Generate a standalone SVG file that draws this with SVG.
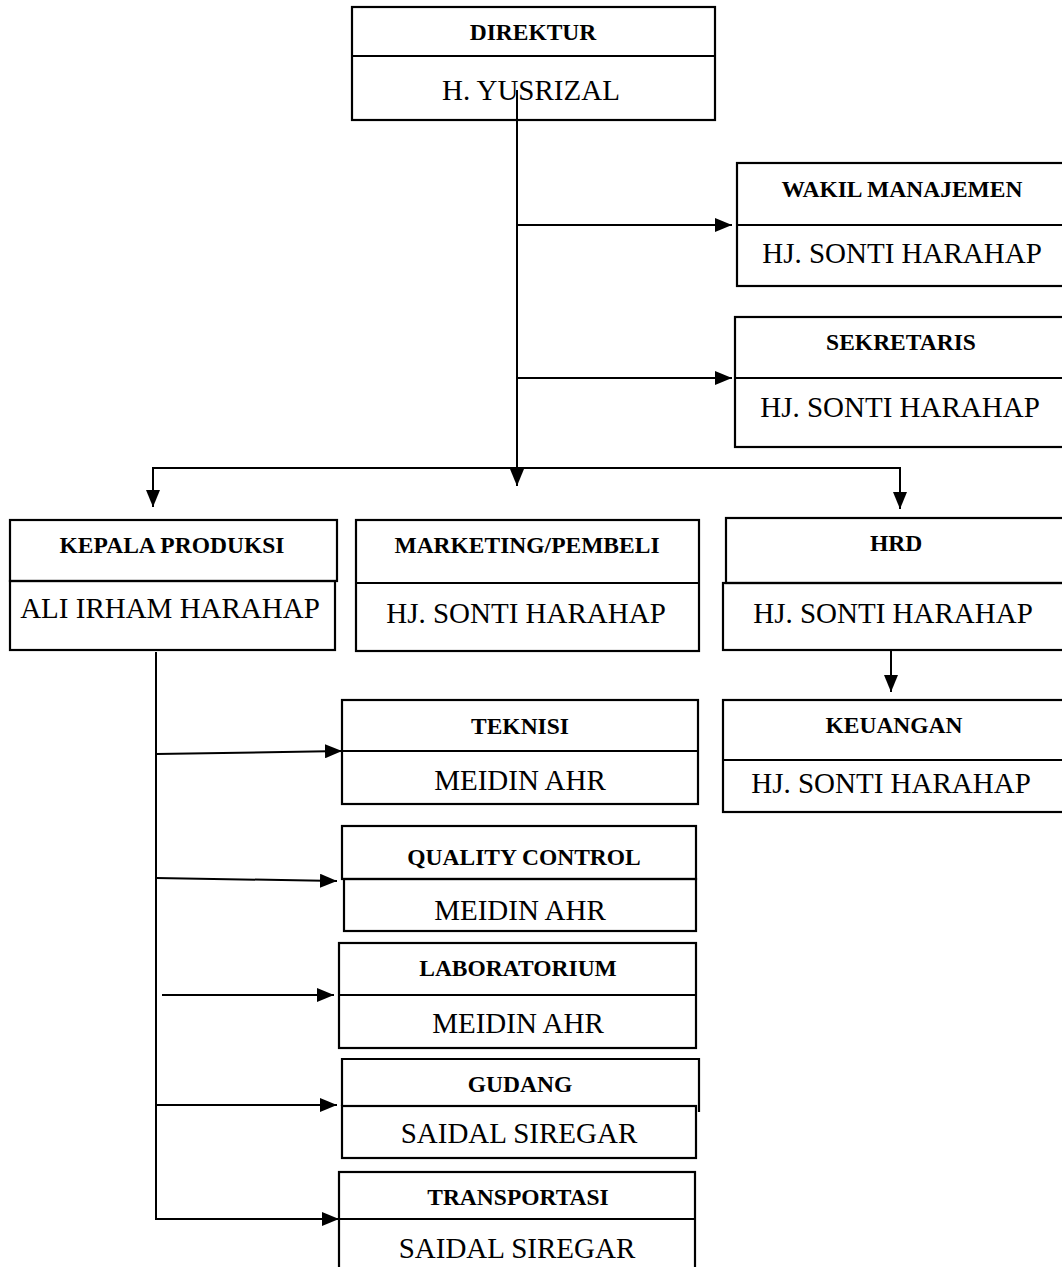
<svg xmlns="http://www.w3.org/2000/svg" width="1062" height="1267" viewBox="0 0 1062 1267">
<defs>
<style>
.box{fill:none;stroke:#000;stroke-width:2.2}
.ln{fill:none;stroke:#000;stroke-width:2}
.lbl{font-family:"Liberation Serif","Times New Roman",serif;font-weight:bold;font-size:23.5px;text-anchor:middle;fill:#000}
.nm{font-family:"Liberation Serif","Times New Roman",serif;font-size:29px;text-anchor:middle;fill:#000}
</style>
<marker id="ah" viewBox="0 0 17 14" refX="17" refY="7" markerWidth="17" markerHeight="14" markerUnits="userSpaceOnUse" orient="auto">
<path d="M0,0 L17,7 L0,14 z" fill="#000"/>
</marker>
</defs>
<rect width="1062" height="1267" fill="#fff"/>

<g id="direktur">
<rect class="box" x="352" y="7" width="363" height="113"/>
<line class="box" x1="352" y1="56" x2="715" y2="56"/>
<text class="lbl" x="533" y="40">DIREKTUR</text>
<text class="nm" x="531" y="100">H. YUSRIZAL</text>
</g>

<g id="wakil-manajemen">
<rect class="box" x="737" y="163" width="340" height="123"/>
<line class="box" x1="737" y1="225" x2="1077" y2="225"/>
<text class="lbl" x="902" y="197">WAKIL MANAJEMEN</text>
<text class="nm" x="902" y="263">HJ. SONTI HARAHAP</text>
</g>

<g id="sekretaris">
<rect class="box" x="735" y="317" width="342" height="130"/>
<line class="box" x1="735" y1="378" x2="1077" y2="378"/>
<text class="lbl" x="901" y="350">SEKRETARIS</text>
<text class="nm" x="900" y="417">HJ. SONTI HARAHAP</text>
</g>

<g id="kepala-produksi">
<rect class="box" x="10" y="520" width="327" height="61"/>
<rect class="box" x="10" y="581" width="325" height="69"/>
<text class="lbl" x="172" y="553">KEPALA PRODUKSI</text>
<text class="nm" x="170" y="618">ALI IRHAM HARAHAP</text>
</g>

<g id="marketing">
<rect class="box" x="356" y="520" width="343" height="131"/>
<line class="box" x1="356" y1="583" x2="699" y2="583"/>
<text class="lbl" x="527" y="553">MARKETING/PEMBELI</text>
<text class="nm" x="526" y="623">HJ. SONTI HARAHAP</text>
</g>

<g id="hrd">
<rect class="box" x="726" y="518" width="350" height="65"/>
<rect class="box" x="723" y="583" width="353" height="67"/>
<text class="lbl" x="896" y="551">HRD</text>
<text class="nm" x="893" y="623">HJ. SONTI HARAHAP</text>
</g>

<g id="keuangan">
<rect class="box" x="723" y="700" width="353" height="112"/>
<line class="box" x1="723" y1="760" x2="1076" y2="760"/>
<text class="lbl" x="894" y="733">KEUANGAN</text>
<text class="nm" x="891" y="793">HJ. SONTI HARAHAP</text>
</g>

<g id="teknisi">
<rect class="box" x="342" y="700" width="356" height="104"/>
<line class="box" x1="342" y1="751" x2="698" y2="751"/>
<text class="lbl" x="520" y="734">TEKNISI</text>
<text class="nm" x="520" y="790">MEIDIN AHR</text>
</g>

<g id="quality-control">
<rect class="box" x="342" y="826" width="354" height="53"/>
<rect class="box" x="344" y="879" width="352" height="52"/>
<text class="lbl" x="524" y="865">QUALITY CONTROL</text>
<text class="nm" x="520" y="920">MEIDIN AHR</text>
</g>

<g id="laboratorium">
<rect class="box" x="339" y="943" width="357" height="105"/>
<line class="box" x1="339" y1="995" x2="696" y2="995"/>
<text class="lbl" x="518" y="976">LABORATORIUM</text>
<text class="nm" x="518" y="1033">MEIDIN AHR</text>
</g>

<g id="gudang">
<polyline class="box" points="342,1106 342,1059 699,1059 699,1112"/>
<rect class="box" x="342" y="1106" width="354" height="52"/>
<text class="lbl" x="520" y="1092">GUDANG</text>
<text class="nm" x="519" y="1143">SAIDAL SIREGAR</text>
</g>

<g id="transportasi">
<rect class="box" x="339" y="1172" width="356" height="110"/>
<line class="box" x1="339" y1="1219" x2="695" y2="1219"/>
<text class="lbl" x="518" y="1205">TRANSPORTASI</text>
<text class="nm" x="517" y="1258">SAIDAL SIREGAR</text>
</g>

<g id="connectors">
<path class="ln" d="M517 90 V486" marker-end="url(#ah)"/>
<path class="ln" d="M517 225 H732" marker-end="url(#ah)"/>
<path class="ln" d="M517 378 H732" marker-end="url(#ah)"/>
<path class="ln" d="M153 468 H900"/>
<path class="ln" d="M153 467 V507" marker-end="url(#ah)"/>
<path class="ln" d="M900 467 V509" marker-end="url(#ah)"/>
<path class="ln" d="M891 650 V692" marker-end="url(#ah)"/>
<path class="ln" d="M156 652 V1219 H339" marker-end="url(#ah)"/>
<path class="ln" d="M156 754 L342 751" marker-end="url(#ah)"/>
<path class="ln" d="M156 878 L337 881" marker-end="url(#ah)"/>
<path class="ln" d="M162 995 H334" marker-end="url(#ah)"/>
<path class="ln" d="M156 1105 H337" marker-end="url(#ah)"/>
</g>
</svg>
